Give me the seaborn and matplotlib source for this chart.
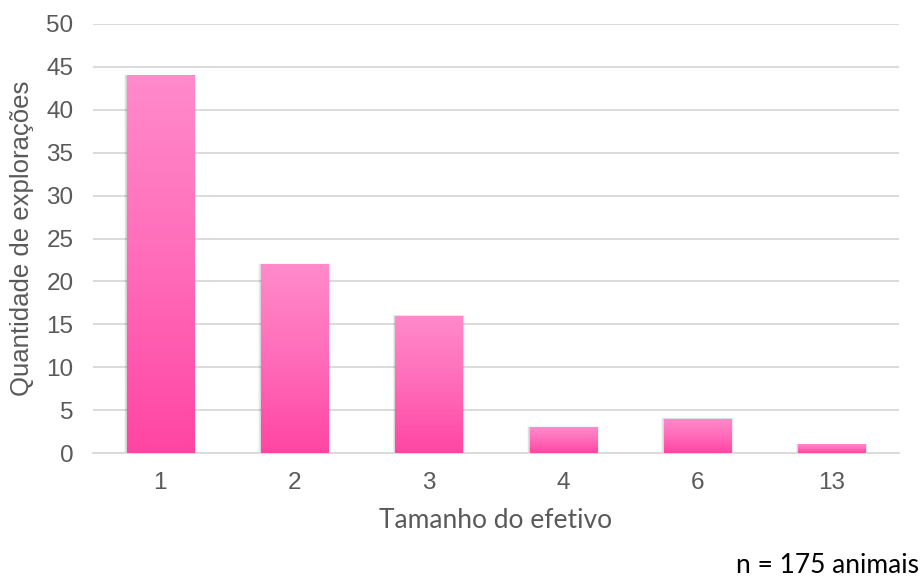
import numpy as np
import pandas as pd
import matplotlib
matplotlib.use("Agg")
import matplotlib.pyplot as plt
import seaborn as sns
from matplotlib.colors import LinearSegmentedColormap
from matplotlib.patches import Rectangle

# data
tamanho = ["1", "2", "3", "4", "6", "13"]
exploracoes = [44, 22, 16, 3, 4, 1]

df = pd.DataFrame({"tamanho": tamanho, "exploracoes": exploracoes})

sns.set_style("white")
plt.rcParams["font.family"] = ["Liberation Sans", "DejaVu Sans"]

fig = plt.figure(figsize=(9.21, 5.84), dpi=100)
ax = fig.add_axes([93 / 921, 1 - 453 / 584, 806 / 921, 429 / 584])

sns.barplot(data=df, x="tamanho", y="exploracoes", order=tamanho,
            color="#FF66B8", width=0.5, ax=ax, zorder=3)

ax.set_yticks(range(0, 51, 5))
ax.yaxis.grid(True, color="#D9D9D9", linewidth=1.3, zorder=0)
ax.set_axisbelow(True)
for s in ["top", "right", "left"]:
    ax.spines[s].set_visible(False)
ax.spines["bottom"].set_color("#D9D9D9")
ax.spines["bottom"].set_linewidth(1.3)
ax.tick_params(axis="both", length=0, labelsize=17.5, colors="#595959", pad=14)

# gradient fill + soft shadow for each bar
cmap = LinearSegmentedColormap.from_list("pk", ["#FF45A3", "#FF6CB9", "#FF8ACB"])
grad = np.linspace(0, 1, 256).reshape(-1, 1)
for p in list(ax.patches):
    x0, w, h = p.get_x(), p.get_width(), p.get_height()
    for k in range(6):
        d = 0.005 + k * 0.005
        sh = Rectangle((x0 - d * 0.6, -0.05), w + d * 1.2, h + d * 5,
                       facecolor="black", alpha=0.03, edgecolor="none", zorder=2)
        ax.add_patch(sh)
    im = ax.imshow(grad, cmap=cmap, origin="lower", aspect="auto",
                   extent=[x0, x0 + w, 0, h], zorder=4)
    im.set_clip_path(p)
    p.set_edgecolor("none")
ax.set_xlim(-0.5, len(tamanho) - 0.5)
ax.set_ylim(0, 50)

ax.set_xlabel("Tamanho do efetivo", fontsize=19, color="#595959",
              family=["Lato", "DejaVu Sans"], va="baseline")
ax.xaxis.set_label_coords(0.5, -(528 - 453) / 429)
ax.set_ylabel("Quantidade de explorações", fontsize=18.5, color="#595959", va="center")
ax.yaxis.set_label_coords(-(93 - 22) / 806, 0.5)

fig.text(919 / 921, 1 - 573 / 584, "n = 175 animais", ha="right", va="baseline",
         fontsize=19, color="black", family=["Lato", "DejaVu Sans"])

fig.savefig("out.png", dpi=100)
